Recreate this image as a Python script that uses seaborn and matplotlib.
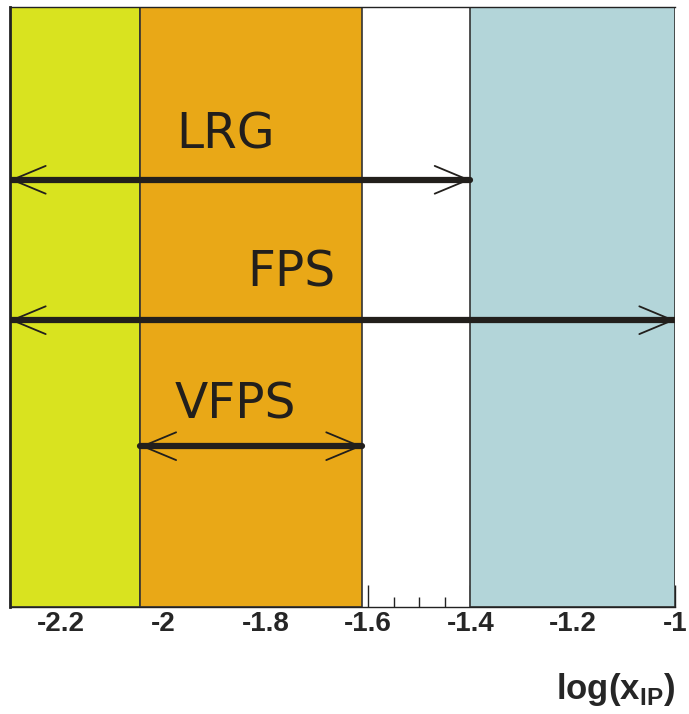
import numpy as np
import pandas as pd
import seaborn as sns
import matplotlib.pyplot as plt

# ==========================================
# 1. DATA
# ==========================================
# coloured acceptance bands in log(x_IP)
band_lo = [-2.3, -2.045, -1.40]
band_hi = [-2.045, -1.612, -1.0]
band_colors = ['#d9e31f', '#e9a817', '#b3d5d9']

# detector ranges (arrows)
detectors = ['LRG', 'FPS', 'VFPS']
det_lo = [-2.3, -2.3, -2.045]
det_hi = [-1.40, -1.0, -1.612]

x_ticks = [-2.2, -2.0, -1.8, -1.6, -1.4, -1.2, -1.0]
x_tick_labels = ['-2.2', '-2', '-1.8', '-1.6', '-1.4', '-1.2', '-1']

# ==========================================
# 2. FIGURE
# ==========================================
sns.set_theme(style='white')
plt.rcParams['font.family'] = ['Liberation Sans', 'DejaVu Sans']
plt.rcParams['mathtext.fontset'] = 'custom'
plt.rcParams['mathtext.bf'] = 'Liberation Sans:bold'
plt.rcParams['mathtext.rm'] = 'Liberation Sans:bold'

fig = plt.figure(figsize=(6.89, 7.14), dpi=100)
ax = fig.add_axes([10 / 689, 107 / 714, 665 / 689, 600 / 714])
ax.set_xlim(-2.3, -1.0)
ax.set_ylim(0, 1)

# bands (drawn above the ticks, so ticks only show in the white gap)
for lo, hi, c in zip(band_lo, band_hi, band_colors):
    ax.axvspan(lo, hi, facecolor=c, edgecolor='#333333', lw=1.2, zorder=1)

# arrows: thick shaft + thin open heads
arrow_y = [0.712, 0.478, 0.268]
label_xy = [(-1.878, 0.787), (-1.75, 0.558), (-1.86, 0.337)]
for name, lo, hi, y, (tx, ty) in zip(detectors, det_lo, det_hi, arrow_y, label_xy):
    sns.lineplot(x=[lo, hi], y=[y, y], color='#221f1c', lw=4.5, ax=ax,
                 zorder=3, estimator=None)
    ax.annotate('', xy=(hi, y), xytext=(lo, y),
                arrowprops=dict(arrowstyle='<->,head_length=2.4,head_width=1.0',
                                color='#221f1c', lw=1.3, shrinkA=0, shrinkB=0,
                                mutation_scale=10),
                zorder=4)
    ax.text(tx, ty, name, fontsize=35, ha='center', va='center',
            family=['DejaVu Sans'], color='#221f1c', zorder=5)

# axes decoration
ax.set_xticks(x_ticks)
ax.set_xticklabels(x_tick_labels, fontsize=20, fontweight='bold')
ax.set_xticks(np.arange(-2.3, -0.999, 0.05), minor=True)
ax.tick_params(axis='x', which='major', direction='in', length=16, width=1,
               pad=3, bottom=True, color='#222222')
ax.tick_params(axis='x', which='minor', direction='in', length=7, width=1,
               bottom=True, color='#222222')
ax.set_yticks([])
ax.set_axisbelow(True)

for side in ['left', 'bottom', 'top']:
    ax.spines[side].set_color('#222222')
ax.spines['left'].set_linewidth(2)
ax.spines['bottom'].set_linewidth(1)
ax.spines['top'].set_linewidth(1)
ax.spines['right'].set_visible(False)

ax.set_xlabel(r'log(x$_{\mathbf{IP}}$)', fontsize=25, fontweight='bold',
              loc='right', labelpad=24)

plt.savefig('out.png', dpi=100)
